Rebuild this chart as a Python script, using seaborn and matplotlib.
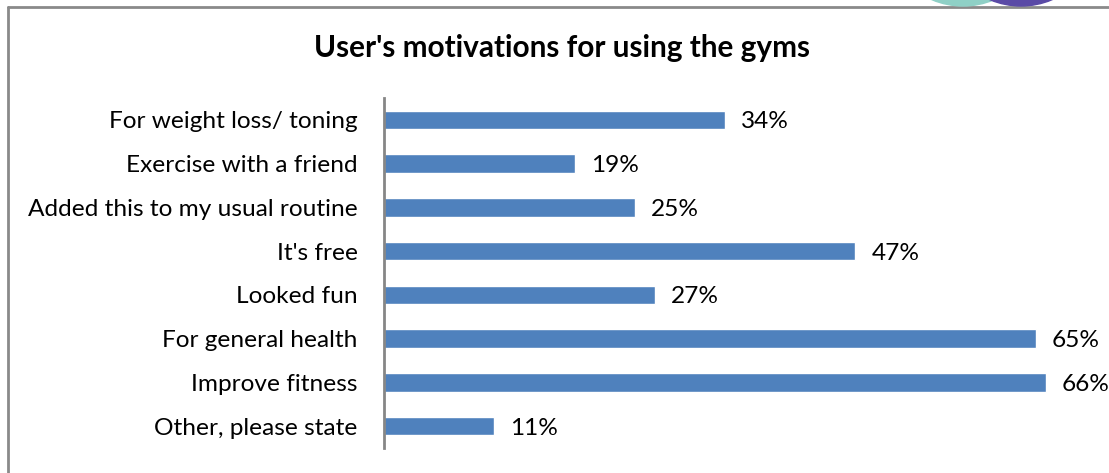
import matplotlib
matplotlib.use("Agg")
import matplotlib.pyplot as plt
import matplotlib.patches as mpatches
import matplotlib.lines as mlines
import seaborn as sns
import pandas as pd

categories = [
    "For weight loss/ toning",
    "Exercise with a friend",
    "Added this to my usual routine",
    "It's free",
    "Looked fun",
    "For general health",
    "Improve fitness",
    "Other, please state",
]
percent = [34, 19, 25, 47, 27, 65, 66, 11]
title = "User's motivations for using the gyms"

sns.set_theme(style="white")
plt.rcParams["font.family"] = ["Lato", "DejaVu Sans"]

W, H = 1109, 473
fig = plt.figure(figsize=(W / 100, H / 100), dpi=100)
ax = fig.add_axes([384 / W, (H - 448) / H, 702 / W, 350 / H])

df = pd.DataFrame({"category": categories, "percent": percent})
sns.barplot(data=df, x="percent", y="category", orient="h", color="#4f81bd",
            saturation=1, width=0.42, ax=ax)

ax.set_xlim(0, 70)
ax.set_ylim(len(categories) - 0.5, -0.5)
ax.set_xlabel("")
ax.set_ylabel("")
ax.set_xticks([])
for s in ["top", "right", "bottom"]:
    ax.spines[s].set_visible(False)
ax.spines["left"].set_color("#868686")
ax.spines["left"].set_linewidth(2)
ax.tick_params(axis="y", length=0, pad=19, labelsize=17.6, labelcolor="#000000")
for lbl in ax.get_yticklabels():
    lbl.set_verticalalignment("center_baseline")

for i, v in enumerate(percent):
    ax.text(v + 1.6, i, f"{v}%", va="center_baseline", ha="left", fontsize=17.6,
            color="#000000")

fig.text(562 / W, 1 - 48 / H, title, ha="center", va="center",
         fontsize=21.4, fontweight="bold", color="#000000")

# chart frame
fig.add_artist(mlines.Line2D([8 / W, 8 / W], [0, 1 - 7 / H], color="#8a8a8a", lw=2,
                             transform=fig.transFigure))
fig.add_artist(mlines.Line2D([8 / W, 1], [1 - 7 / H, 1 - 7 / H], color="#8a8a8a", lw=2,
                             transform=fig.transFigure))

# decorative circles along the top edge
for cx, col in [(9.63, "#8fd0c6"), (10.21, "#5a4aa6")]:
    fig.add_artist(mpatches.Circle((cx, H / 100 + 0.74), 0.80, color=col,
                                   transform=fig.dpi_scale_trans, zorder=5))

fig.savefig("out.png", dpi=100)
